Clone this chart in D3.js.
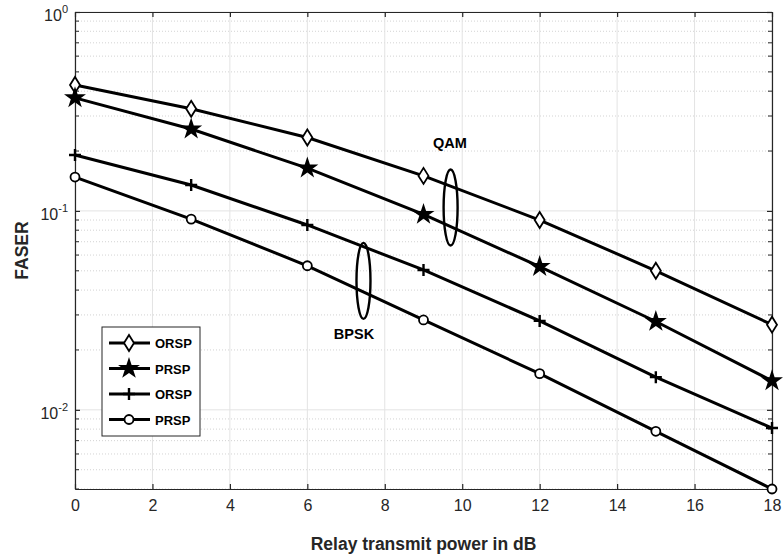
<!DOCTYPE html>
<html>
<head>
<meta charset="utf-8">
<script src="https://cdn.jsdelivr.net/npm/d3@7"></script>
<style>
  body { margin: 0; background: #fff; }
  svg { font-family: "Liberation Sans", Arial, sans-serif; }
</style>
</head>
<body>
<svg id="chart" width="783" height="558"></svg>
<script>
// transmit power (dB)
var powers = [0, 3, 6, 9, 12, 15, 18]

// FASER values
var orspQam = [0.43, 0.326, 0.234, 0.150, 0.090, 0.050, 0.0268]
var prspQam = [0.37, 0.258, 0.164, 0.096, 0.0525, 0.0278, 0.0140]
var orspBpsk = [0.191, 0.135, 0.085, 0.0505, 0.0280, 0.0146, 0.0081]
var prspBpsk = [0.148, 0.091, 0.053, 0.0283, 0.0152, 0.0078, 0.0040]

var xTicks = [0, 2, 4, 6, 8, 10, 12, 14, 16, 18]
var yDecades = [-2, -1, 0]

var series = [
  { name: "ORSP", values: orspQam, marker: "diamond" },
  { name: "PRSP", values: prspQam, marker: "star" },
  { name: "ORSP", values: orspBpsk, marker: "plus" },
  { name: "PRSP", values: prspBpsk, marker: "circle" }
]

var LEFT = 75, RIGHT = 772, TOP = 12, BOTTOM = 489

var svg = d3.select("#chart")

var x = d3.scaleLinear().domain([0, 18]).range([LEFT, RIGHT])
var y = d3.scaleLog().domain([0.004, 1]).range([BOTTOM, TOP])

// minor ticks for the log axis
var minorTicks = []
for (var e = -3; e < 0; e++) {
  for (var m = 2; m <= 9; m++) {
    var v = m * Math.pow(10, e)
    if (v >= 0.004 && v <= 1) minorTicks.push(v)
  }
}

var grid = svg.append("g")

// minor dotted grid
grid.selectAll(".minor")
  .data(minorTicks)
  .enter().append("line")
  .attr("x1", LEFT).attr("x2", RIGHT)
  .attr("y1", function(d) { return y(d) }).attr("y2", function(d) { return y(d) })
  .attr("stroke", "#c8c8c8")
  .attr("stroke-width", 0.8)
  .attr("stroke-dasharray", "1,2")

// major grid
grid.selectAll(".vmajor")
  .data(xTicks)
  .enter().append("line")
  .attr("x1", function(d) { return x(d) }).attr("x2", function(d) { return x(d) })
  .attr("y1", TOP).attr("y2", BOTTOM)
  .attr("stroke", "#e3e3e3")
  .attr("stroke-width", 1)

grid.selectAll(".hmajor")
  .data(yDecades)
  .enter().append("line")
  .attr("x1", LEFT).attr("x2", RIGHT)
  .attr("y1", function(d) { return y(Math.pow(10, d)) })
  .attr("y2", function(d) { return y(Math.pow(10, d)) })
  .attr("stroke", "#e3e3e3")
  .attr("stroke-width", 1)

// axes (box with ticks inside on all sides)
var axisColor = "#262626"

function styleAxis(g) {
  g.select(".domain").attr("stroke", axisColor).attr("stroke-width", 1.2)
  g.selectAll(".tick line").attr("stroke", axisColor).attr("stroke-width", 1.2)
  g.selectAll(".tick text").attr("fill", axisColor).attr("font-size", 16)
}

var xBottom = svg.append("g")
  .attr("transform", "translate(0," + BOTTOM + ")")
  .call(d3.axisBottom(x).tickValues(xTicks).tickSizeInner(-5).tickSizeOuter(0).tickPadding(11))
styleAxis(xBottom)

var xTop = svg.append("g")
  .attr("transform", "translate(0," + TOP + ")")
  .call(d3.axisTop(x).tickValues(xTicks).tickSizeInner(-5).tickSizeOuter(0).tickFormat(""))
styleAxis(xTop)

function yAxis(g, left) {
  var ax = left ? d3.axisLeft(y) : d3.axisRight(y)
  g.call(ax.tickValues(yDecades.map(function(d) { return Math.pow(10, d) }))
    .tickSizeInner(-5).tickSizeOuter(0).tickFormat(""))
  g.selectAll(".minor")
    .data(minorTicks)
    .enter().append("line")
    .attr("class", "minor")
    .attr("x1", 0).attr("x2", left ? 4 : -4)
    .attr("y1", function(d) { return y(d) }).attr("y2", function(d) { return y(d) })
    .attr("stroke", axisColor)
  styleAxis(g)
}

var yLeft = svg.append("g").attr("transform", "translate(" + LEFT + ",0)")
yAxis(yLeft, true)
var yRight = svg.append("g").attr("transform", "translate(" + RIGHT + ",0)")
yAxis(yRight, false)

// decade labels 10^n
var decLabels = svg.append("g")
  .selectAll("text")
  .data(yDecades)
  .enter().append("text")
  .attr("x", LEFT - 7)
  .attr("y", function(d) { return y(Math.pow(10, d)) + 9 })
  .attr("text-anchor", "end")
  .attr("fill", axisColor)
  .attr("font-size", 16)
decLabels.append("tspan").text("10")
decLabels.append("tspan")
  .attr("font-size", 11)
  .attr("dy", -8)
  .text(function(d) { return d })

// axis titles
svg.append("text")
  .attr("x", (LEFT + RIGHT) / 2)
  .attr("y", 550)
  .attr("text-anchor", "middle")
  .attr("font-weight", "bold")
  .attr("font-size", 17.5)
  .attr("fill", axisColor)
  .text("Relay transmit power in dB")

svg.append("text")
  .attr("transform", "translate(28," + ((TOP + BOTTOM) / 2) + ") rotate(-90)")
  .attr("text-anchor", "middle")
  .attr("font-weight", "bold")
  .attr("font-size", 17.5)
  .attr("fill", axisColor)
  .text("FASER")

// markers
var starPath = d3.symbol().type(d3.symbolStar).size(150)()
function drawMarker(g, type) {
  if (type == "diamond") {
    g.append("path").attr("d", "M0,-8L5,0L0,8L-5,0Z")
      .attr("fill", "white").attr("stroke", "black").attr("stroke-width", 1.8)
  } else if (type == "star") {
    g.append("path").attr("d", starPath).attr("fill", "black")
  } else if (type == "plus") {
    g.append("path").attr("d", "M-6,0H6M0,-6V6")
      .attr("stroke", "black").attr("stroke-width", 2.4)
  } else if (type == "circle") {
    g.append("circle").attr("r", 4.5)
      .attr("fill", "white").attr("stroke", "black").attr("stroke-width", 1.8)
  }
}

var line = d3.line()
  .x(function(d, i) { return x(powers[i]) })
  .y(function(d) { return y(d) })

var plot = svg.append("g")
series.forEach(function(s) {
  plot.append("path")
    .attr("d", line(s.values))
    .attr("fill", "none")
    .attr("stroke", "black")
    .attr("stroke-width", 3)
  s.values.forEach(function(v, i) {
    var g = plot.append("g")
      .attr("transform", "translate(" + x(powers[i]) + "," + y(v) + ")")
    drawMarker(g, s.marker)
  })
})

// modulation annotations
var notes = [
  { label: "QAM", cx: x(9.7), cy: y(0.104), tx: 450, ty: 148 },
  { label: "BPSK", cx: x(7.45), cy: y(0.0445), tx: 354, ty: 339 }
]
notes.forEach(function(n) {
  svg.append("ellipse")
    .attr("cx", n.cx).attr("cy", n.cy)
    .attr("rx", 7).attr("ry", 38)
    .attr("fill", "none").attr("stroke", "black").attr("stroke-width", 2.4)
  svg.append("text")
    .attr("x", n.tx).attr("y", n.ty)
    .attr("text-anchor", "middle")
    .attr("font-weight", "bold")
    .attr("font-size", 14.5)
    .text(n.label)
})

// legend
var legend = svg.append("g").attr("transform", "translate(102,327)")
legend.append("rect")
  .attr("width", 98).attr("height", 109)
  .attr("fill", "white").attr("stroke", axisColor).attr("stroke-width", 1)
series.forEach(function(s, i) {
  var ly = 16 + i * 25.5
  legend.append("line")
    .attr("x1", 7).attr("x2", 48).attr("y1", ly).attr("y2", ly)
    .attr("stroke", "black").attr("stroke-width", 3)
  drawMarker(legend.append("g").attr("transform", "translate(27," + ly + ")"), s.marker)
  legend.append("text")
    .attr("x", 53).attr("y", ly + 5)
    .attr("font-weight", "bold")
    .attr("font-size", 13)
    .text(s.name)
})
</script>
</body>
</html>
